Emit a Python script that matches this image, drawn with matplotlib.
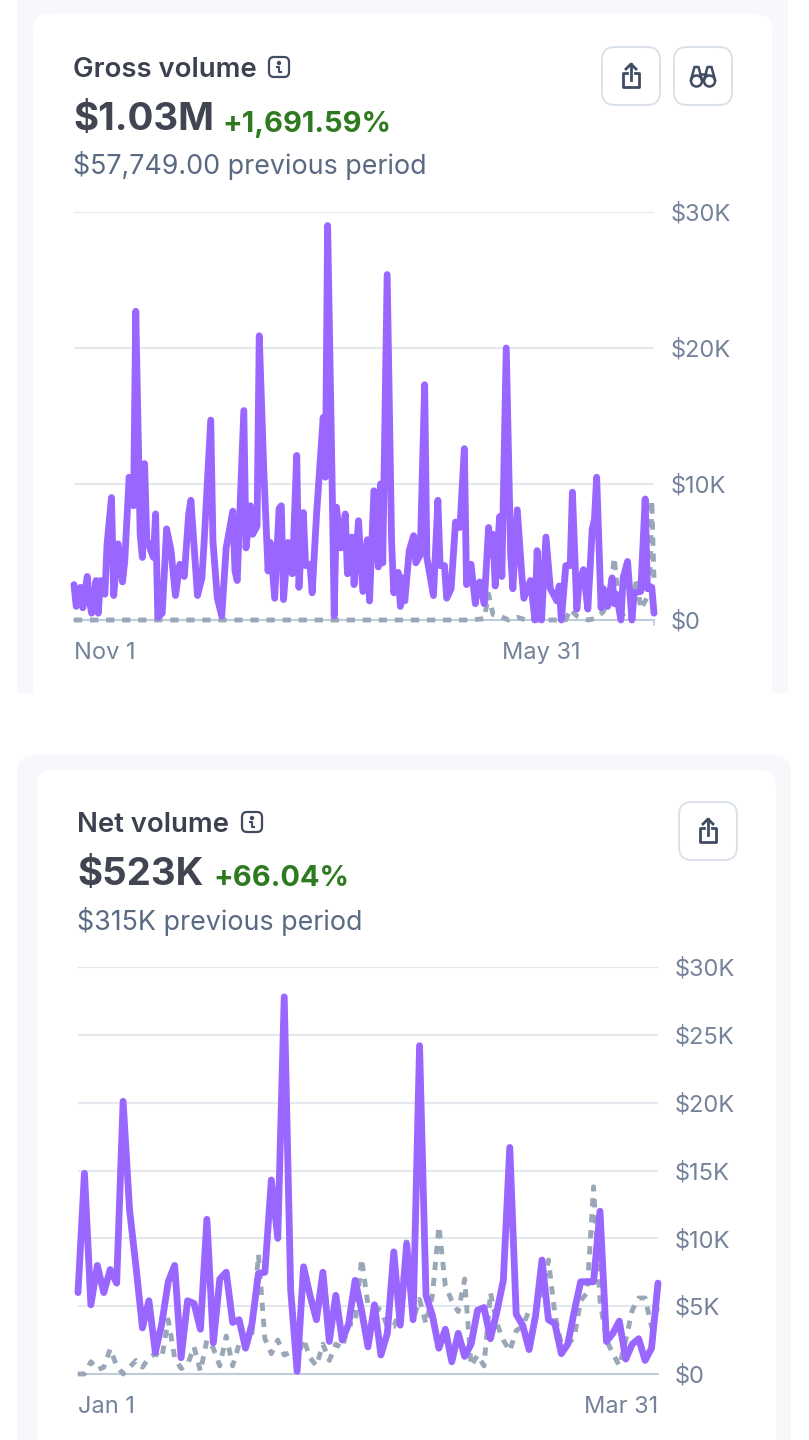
#!/usr/bin/env python3
"""Gross / net volume dashboard cards, rebuilt as one tall matplotlib figure."""
import matplotlib
matplotlib.use("Agg")
import matplotlib.pyplot as plt
from matplotlib.patches import Rectangle, Circle, FancyBboxPatch

W, H = 809, 1440

C_BAND = "#f6f8fb"
C_TITLE = "#3c4150"
C_BIG = "#414552"
C_GREEN = "#2e7a1f"
C_SUB = "#5a6a82"
C_TICK = "#74829a"
C_GRID = "#e3e8ef"
C_BASE = "#c0ccda"
C_NOW = "#9966ff"
C_PREV = "#9aa7b8"
C_ICON = "#414c63"
C_BTN = "#dae1ea"

# Gross volume, values in $K, x in days since Nov 1
gross_days = [0, 1, 3, 4, 6, 7, 8, 10, 11, 12, 14, 15, 17, 18, 20, 22, 23, 25, 27, 28,
              30, 31, 32, 33, 36, 37, 38, 40, 42, 44, 46, 48, 50, 52, 53, 56, 58, 59, 62, 63,
              65, 67, 69, 72, 73, 74, 77, 78, 80, 81, 83, 84, 86, 88, 89, 91, 93, 94, 95, 97,
              99, 101, 102, 104, 105, 107, 108, 110, 113, 114, 115, 117, 118, 119, 121, 123, 124, 126, 127, 129,
              131, 133, 134, 136, 138, 139, 140, 142, 144, 145, 147, 148, 149, 150, 152, 154, 155, 157, 159, 160,
              163, 165, 166, 168, 169, 171, 173, 175, 177, 178, 180, 182, 183, 184, 186, 188, 189, 190, 191, 193,
              194, 196, 198, 199, 201, 203, 204, 207, 209, 210, 212, 214, 216, 219, 220, 221, 223, 225, 226, 228,
              229, 231, 233, 235, 236, 237, 239, 240, 242, 244, 245, 246, 248, 249, 251, 253, 254, 257, 259, 260,
              262, 263]
gross_now = [2.6, 1.0, 2.4, 0.9, 3.2, 1.4, 0.5, 2.9, 0.5, 2.9, 1.9, 5.6, 9.0, 1.8, 5.6, 2.8, 4.3, 10.5, 8.4, 22.7,
             6.3, 4.6, 11.5, 5.9, 4.6, 7.8, 0.2, 0.5, 6.7, 5.1, 1.8, 4.1, 3.2, 7.8, 8.8, 1.8, 3.1, 5.7, 14.7, 5.8,
             1.6, 0.3, 5.3, 8.0, 3.6, 2.9, 15.4, 5.3, 8.4, 6.3, 6.9, 20.9, 11.2, 3.6, 5.7, 1.6, 8.2, 8.4, 1.5, 5.7,
             3.4, 12.1, 2.4, 7.9, 4.0, 4.1, 2.0, 7.8, 14.9, 10.5, 29.0, 10.5, 0.3, 8.3, 5.3, 7.8, 3.4, 6.1, 2.6, 7.3,
             2.1, 5.9, 1.4, 9.5, 3.9, 10.0, 4.2, 25.4, 5.8, 2.0, 3.5, 1.0, 3.1, 1.4, 5.1, 6.2, 4.2, 4.8, 17.3, 4.6,
             1.8, 8.8, 4.0, 4.0, 1.6, 2.3, 7.2, 6.8, 12.6, 2.6, 4.1, 1.2, 2.6, 2.8, 1.2, 6.8, 4.8, 6.3, 2.5, 7.6,
             3.2, 20.0, 4.8, 2.3, 8.1, 3.4, 1.6, 2.9, 0.0, 5.1, 0.0, 6.1, 2.3, 1.4, 2.5, 0.0, 4.0, 4.0, 9.4, 0.8,
             2.6, 3.7, 0.8, 6.7, 7.4, 10.5, 0.9, 2.3, 1.0, 3.1, 1.2, 1.9, 0.0, 3.1, 4.3, 0.0, 2.0, 2.1, 8.9, 2.3,
             2.4, 0.5]
gross_prev_days = [0, 180, 186, 188, 190, 193, 197, 201, 205, 218, 223, 225, 228, 233, 236,
                   240, 243, 245, 247, 250, 253, 255, 257, 261, 262, 263]
gross_prev = [0.0, 0.0, 0.1, 1.9, 0.4, 0.3, 0.0, 0.2, 0.0, 0.0, 0.0, 0.8, 0.3, 0.0, 0.1,
              0.6, 2.0, 4.6, 1.0, 0.0, 0.0, 3.1, 0.8, 2.0, 8.8, 3.0]

# Net volume, values in $K, one per day from Jan 1 to Mar 31
net_now = [6.0, 14.8, 5.1, 8.0, 6.0, 7.7, 6.7, 20.1, 12.1, 7.9, 3.4, 5.4, 1.6, 3.7, 6.8, 8.0, 1.2, 5.4, 5.2, 3.3,
           11.4, 2.3, 7.0, 7.5, 3.8, 4.0, 1.9, 3.7, 7.4, 7.5, 14.3, 10.0, 27.8, 6.2, 0.2, 7.9, 5.8, 4.0, 7.5, 2.4,
           5.8, 2.5, 3.7, 6.9, 4.7, 2.0, 5.1, 1.4, 3.0, 9.0, 3.6, 9.6, 4.0, 24.2, 5.8, 4.3, 1.9, 3.3, 0.9, 3.0,
           1.3, 2.2, 4.7, 4.9, 2.6, 4.6, 6.9, 16.7, 4.4, 3.6, 1.8, 4.3, 8.4, 4.0, 3.7, 1.5, 2.2, 4.6, 6.8, 6.8,
           6.8, 12.0, 2.4, 3.0, 3.9, 1.1, 2.2, 2.6, 1.0, 1.9, 6.7]
net_prev = [0.0, 0.0, 0.9, 0.3, 0.5, 1.85, 0.6, 0.0, 0.5, 1.0, 0.5, 1.2, 1.5, 1.2, 4.0, 1.2, 0.4, 0.7, 2.0, 0.2,
            2.5, 1.9, 0.6, 2.8, 0.6, 2.2, 1.9, 3.0, 8.8, 2.6, 1.5, 2.5, 1.4, 1.6, 1.0, 2.6, 1.2, 0.6, 2.2, 1.0,
            2.2, 1.9, 3.7, 3.7, 8.5, 5.1, 5.0, 4.7, 3.5, 3.5, 4.7, 10.0, 4.0, 5.5, 3.7, 5.8, 10.9, 6.5, 5.4, 4.6,
            7.0, 0.6, 1.4, 0.6, 6.0, 3.7, 2.5, 1.7, 3.2, 3.5, 4.7, 4.7, 6.0, 8.4, 4.4, 2.2, 2.2, 2.7, 5.4, 6.0,
            13.8, 5.4, 2.5, 1.5, 0.6, 2.5, 4.7, 5.6, 5.6, 3.5, 5.0]

gross_yticks = [0, 10, 20, 30]
net_yticks = [0, 5, 10, 15, 20, 25, 30]


def px_axes(fig, x0, y0, x1, y1):
    return fig.add_axes([x0 / W, 1 - y1 / H, (x1 - x0) / W, (y1 - y0) / H])


def draw_info(bg, x, y):
    bg.add_patch(FancyBboxPatch((x - 10, y - 10), 20, 20, boxstyle="round,pad=0,rounding_size=5",
                                facecolor="none", edgecolor=C_ICON, linewidth=1.6))
    bg.add_patch(Circle((x, y - 4), 1.5, color=C_ICON))
    bg.plot([x - 2, x, x, x + 2], [y - 0.5, y - 0.5, y + 5, y + 5], color=C_ICON, lw=1.5)


def draw_button(bg, x, y):
    bg.add_patch(FancyBboxPatch((x + 1, y + 1), 58, 58, boxstyle="round,pad=0,rounding_size=13",
                                facecolor="white", edgecolor=C_BTN, linewidth=1.4))


def draw_share(bg, x, y):
    # x, y = centre of the button
    bg.plot([x - 4, x - 8, x - 8, x + 8, x + 8, x + 4],
            [y - 3, y - 3, y + 11, y + 11, y - 3, y - 3],
            color=C_ICON, lw=2.0, solid_joinstyle="round")
    bg.plot([x, x], [y + 4, y - 12], color=C_ICON, lw=2.0)
    bg.plot([x - 5, x, x + 5], [y - 7, y - 12, y - 7], color=C_ICON, lw=2.0)


def draw_binoculars(bg, x, y):
    for sx in (-6.5, 6.5):
        bg.add_patch(Circle((x + sx, y + 5), 5.5, facecolor="none", edgecolor=C_ICON, linewidth=1.8))
        bg.plot([x + sx - 5.5, x + sx - 2, x + sx + 2, x + sx + 5.5],
                [y + 4, y - 9, y - 9, y + 4], color=C_ICON, lw=1.8)
    bg.plot([x - 3, x + 3], [y - 2, y - 2], color=C_ICON, lw=1.8)


def draw_header(bg, x, y, title, info_x, big, pct, pct_x, sub):
    bg.text(x - 1, y + 3, title, fontsize=19.8, fontweight="semibold", color=C_TITLE, va="center")
    draw_info(bg, info_x, y)
    bg.text(x - 1, y + 53, big, fontsize=27.7, fontweight="bold", color=C_BIG, va="center")
    bg.text(pct_x - 1, y + 57, pct, fontsize=20.9, fontweight="bold", color=C_GREEN, va="center")
    bg.text(x - 1, y + 99, sub, fontsize=19.3, color=C_SUB, va="center")


def draw_chart(ax, now_x, now_y, prev_x, prev_y, yticks, xmax, xticks, xlabels, xalign):
    ax.patch.set_alpha(0)
    ax.plot(prev_x, prev_y, color=C_PREV, lw=3.5, linestyle=(0, (1.7, 1.6)),
            dash_capstyle="butt", clip_on=False, zorder=3)
    ax.plot(now_x, now_y, color=C_NOW, lw=4.9, solid_joinstyle="round",
            solid_capstyle="round", clip_on=False, zorder=4)
    ax.set_xlim(0, xmax)
    ax.set_ylim(0, 30)
    ax.yaxis.tick_right()
    ax.set_yticks(yticks, [f"${v}K" if v else "$0" for v in yticks])
    ax.grid(axis="y", color=C_GRID, linewidth=1.5, zorder=1)
    ax.tick_params(axis="y", length=0, pad=12.3, labelsize=17, labelcolor=C_TICK)
    ax.set_xticks(xticks, xlabels)
    ax.set_xticks([0, xmax], minor=True)
    ax.tick_params(axis="x", which="major", length=0, pad=15.5, labelsize=17, labelcolor=C_TICK)
    ax.tick_params(axis="x", which="minor", length=4, width=1.2, color=C_BASE)
    for lab, ha in zip(ax.get_xticklabels(), xalign):
        lab.set_ha(ha)
    for name in ("top", "left", "right"):
        ax.spines[name].set_visible(False)
    ax.spines["bottom"].set_color(C_BASE)
    ax.spines["bottom"].set_linewidth(1.5)


plt.rcParams["font.family"] = ["Inter", "DejaVu Sans"]
fig = plt.figure(figsize=(W / 100, H / 100), dpi=100, facecolor="white")

bg = fig.add_axes([0, 0, 1, 1])
bg.set_xlim(0, W)
bg.set_ylim(H, 0)
bg.set_axis_off()

# outer bands and white cards
bg.add_patch(FancyBboxPatch((17, -30), 771, 723, boxstyle="round,pad=0,rounding_size=18",
                            facecolor=C_BAND, edgecolor="none"))
bg.add_patch(Rectangle((17, 640), 771, 53, facecolor=C_BAND, edgecolor="none"))
bg.add_patch(FancyBboxPatch((33, 14), 739, 720, boxstyle="round,pad=0,rounding_size=16",
                            facecolor="white", edgecolor="none"))
bg.add_patch(Rectangle((0, 693), W, 62, facecolor="white", edgecolor="none"))
bg.add_patch(FancyBboxPatch((17, 755), 774, 720, boxstyle="round,pad=0,rounding_size=18",
                            facecolor=C_BAND, edgecolor="none"))
bg.add_patch(FancyBboxPatch((37, 770), 739, 720, boxstyle="round,pad=0,rounding_size=16",
                            facecolor="white", edgecolor="none"))

draw_header(bg, 74, 67, "Gross volume", 279, "$1.03M", "+1,691.59%", 223, "$57,749.00 previous period")
draw_button(bg, 601, 46)
draw_share(bg, 631, 76)
draw_button(bg, 673, 46)
draw_binoculars(bg, 703, 76)

draw_header(bg, 78, 822, "Net volume", 252, "$523K", "+66.04%", 214, "$315K previous period")
draw_button(bg, 678, 801)
draw_share(bg, 708, 831)

ax1 = px_axes(fig, 74, 212, 654, 620)
draw_chart(ax1, gross_days, gross_now, gross_prev_days, gross_prev, gross_yticks, 263,
           [0, 212], ["Nov 1", "May 31"], ["left", "center"])

ax2 = px_axes(fig, 78, 967, 658, 1374)
net_days = list(range(len(net_now)))
draw_chart(ax2, net_days, net_now, net_days, net_prev, net_yticks, 90,
           [0, 90], ["Jan 1", "Mar 31"], ["left", "right"])

fig.savefig("out.png", dpi=100)
